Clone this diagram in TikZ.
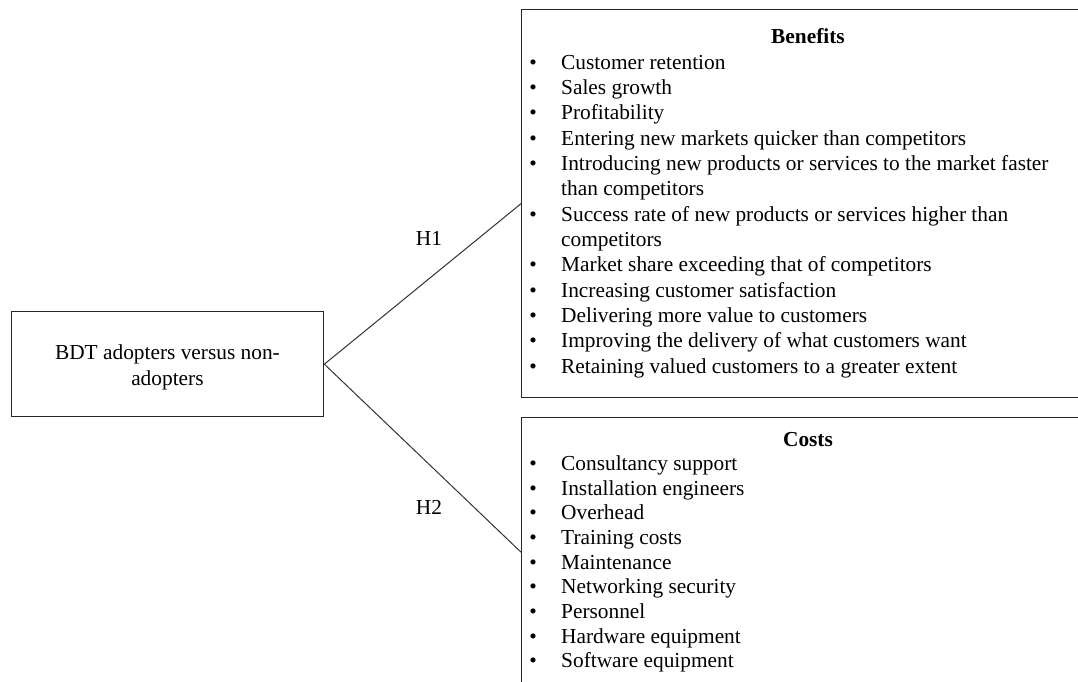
\documentclass[tikz,border=0pt]{standalone}
\usepackage{fontspec}
\setmainfont{Liberation Serif}
\newcommand\itemfont{\fontsize{21.35pt}{25.6pt}\selectfont}
\begin{document}
\begin{tikzpicture}[x=1pt,y=-1pt,
  box/.style={draw=black!85, line width=1.35pt, inner sep=0pt, anchor=north west},
  conn/.style={draw=black!80, line width=1pt},
  item/.style={anchor=mid west, inner sep=0pt, font=\itemfont},
  bul/.style={anchor=mid, inner sep=0pt, font=\itemfont},
  ttl/.style={anchor=mid, inner sep=0pt, font=\itemfont\bfseries},
  lbl/.style={anchor=center, inner sep=0pt, font=\itemfont}]
\useasboundingbox (0,0) rectangle (1078,682);
\fill[white] (0,0) rectangle (1078,682);
\clip (0,0) rectangle (1078,682);

% boxes
\node[box, minimum width=312.5pt, minimum height=105pt] (bdt) at (10.5,311) {};
\node[anchor=center, inner sep=0pt, align=center, font=\itemfont] (bdttext) at ([yshift=-3pt]bdt.center) {BDT adopters versus non-\\adopters};
\node[box, minimum width=579pt, minimum height=388pt] (benefits) at (521,9) {};
\node[box, minimum width=579pt, minimum height=269pt] (costs) at (521,417) {};

% connectors
\draw[conn] (bdt.east) -- (benefits.west);
\draw[conn] (bdt.east) -- (costs.west);
\node[lbl] (h1) at (429,238) {H1};
\node[lbl] (h2) at (429,507) {H2};

% benefits
\node[ttl] (btitle) at (808,41) {Benefits};
\foreach \t/\b [count=\i] in {
  Customer retention/1,
  Sales growth/1,
  Profitability/1,
  Entering new markets quicker than competitors/1,
  Introducing new products or services to the market faster/1,
  than competitors/0,
  Success rate of new products or services higher than/1,
  competitors/0,
  Market share exceeding that of competitors/1,
  Increasing customer satisfaction/1,
  Delivering more value to customers/1,
  Improving the delivery of what customers want/1,
  Retaining valued customers to a greater extent/1} {
  \node[item] (bt\i) at (561,{67+(\i-1)*25.33}) {\t};
  \ifnum\b=1
    \node[bul] (bb\i) at (533,{67+(\i-1)*25.33}) {\textbullet};
  \fi
}

% costs
\node[ttl] (ctitle) at (808,444) {Costs};
\foreach \t [count=\i] in {
  Consultancy support,
  Installation engineers,
  Overhead,
  Training costs,
  Maintenance,
  Networking security,
  Personnel,
  Hardware equipment,
  Software equipment} {
  \node[item] (ct\i) at (561,{468+(\i-1)*24.7}) {\t};
  \node[bul] (cb\i) at (533,{468+(\i-1)*24.7}) {\textbullet};
}
\end{tikzpicture}
\end{document}
